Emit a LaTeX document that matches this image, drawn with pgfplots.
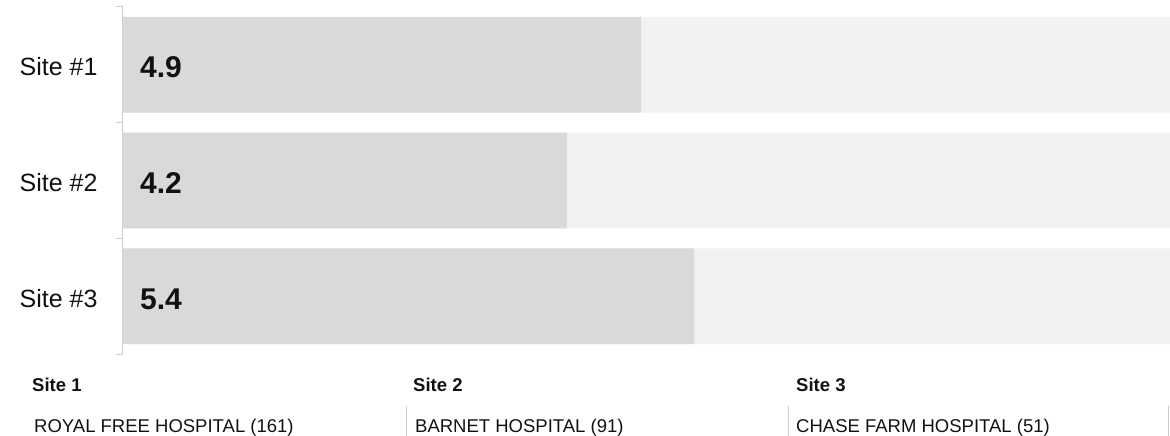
\documentclass[border=0pt]{standalone}
\usepackage{fontspec}
\setmainfont{Liberation Sans}
\usepackage{pgfplots}
\pgfplotsset{compat=1.18}
\definecolor{barfg}{HTML}{D9D9D9}
\definecolor{barbg}{HTML}{F2F2F2}
\definecolor{axisgray}{HTML}{CCCCCC}
\definecolor{txt}{HTML}{111111}
\begin{document}
\begin{tikzpicture}
\useasboundingbox (0,0) rectangle (1170pt,436pt);
\begin{axis}[
  at={(123pt,82pt)}, anchor=south west,
  scale only axis, width=1047pt, height=347pt,
  xbar, bar shift=0pt, bar width=0.8276,
  xmin=0, xmax=9.9, ymin=0.5, ymax=3.5, y dir=reverse,
  hide x axis, axis y line*=left,
  y axis line style={axisgray, line width=1pt},
  ytick={1,2,3}, yticklabels={Site \#1,Site \#2,Site \#3},
  major tick length=0pt,
  minor ytick={0.5,1.5,2.5,3.5}, minor tick length=7pt,
  tick align=outside,
  minor tick style={axisgray, line width=1pt},
  yticklabel style={font=\fontsize{25}{30}\selectfont, text=txt, xshift=-22pt, yshift=-2pt},
]
\addplot[fill=barbg, draw=none] coordinates {(10,1) (10,2) (10,3)};
\addplot[fill=barfg, draw=none] coordinates {(4.9,1) (4.2,2) (5.4,3)};
\node[anchor=base west, inner sep=0pt, text=txt, font=\bfseries\fontsize{30}{36}\selectfont] at ([xshift=17pt,yshift=-13pt]axis cs:0,1) {4.9};
\node[anchor=base west, inner sep=0pt, text=txt, font=\bfseries\fontsize{30}{36}\selectfont] at ([xshift=17pt,yshift=-13pt]axis cs:0,2) {4.2};
\node[anchor=base west, inner sep=0pt, text=txt, font=\bfseries\fontsize{30}{36}\selectfont] at ([xshift=17pt,yshift=-13pt]axis cs:0,3) {5.4};
\end{axis}
% site legend below the bars
\begin{scope}[every node/.style={anchor=base west, inner sep=0pt, text=txt}]
\node[font=\bfseries\fontsize{18.5}{22}\selectfont] at (32pt,44pt) {Site 1};
\node[font=\fontsize{18.5}{22}\selectfont] at (34pt,3pt) {ROYAL FREE HOSPITAL (161)};
\node[font=\bfseries\fontsize{18.5}{22}\selectfont] at (413pt,44pt) {Site 2};
\node[font=\fontsize{18.5}{22}\selectfont] at (415pt,3pt) {BARNET HOSPITAL (91)};
\node[font=\bfseries\fontsize{18.5}{22}\selectfont] at (796pt,44pt) {Site 3};
\node[font=\fontsize{18.5}{22}\selectfont] at (796pt,3pt) {CHASE FARM HOSPITAL (51)};
\end{scope}
\foreach \x in {406,788,1168} \draw[axisgray, line width=1pt] (\x pt,0pt) -- (\x pt,30pt);
\end{tikzpicture}
\end{document}
